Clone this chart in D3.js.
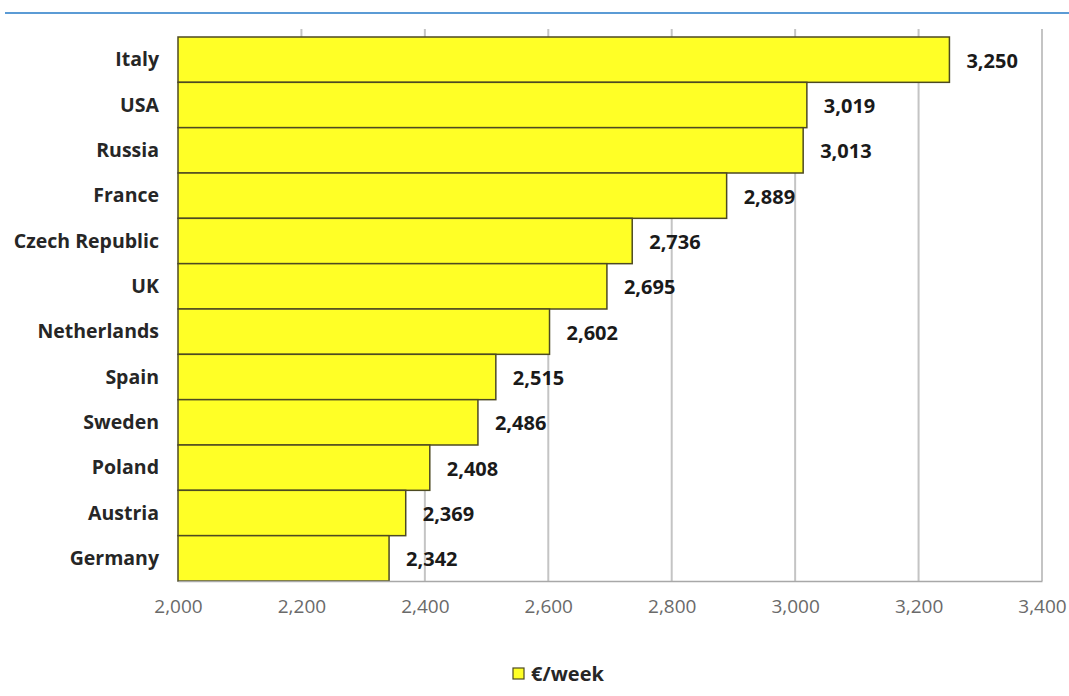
<!DOCTYPE html>
<html>
<head>
<meta charset="utf-8">
<script src="https://cdn.jsdelivr.net/npm/d3@7"></script>
<style>
  body { margin: 0; background: #fff; }
  text { font-family: "Open Sans", sans-serif; }
</style>
</head>
<body>
<div class="container"></div>
<script>
const countries = ["Italy", "USA", "Russia", "France", "Czech Republic", "UK",
        "Netherlands", "Spain", "Sweden", "Poland", "Austria", "Germany"],
    values = [3250, 3019, 3013, 2889, 2736, 2695, 2602, 2515, 2486, 2408, 2369, 2342],
    xTicks = [2000, 2200, 2400, 2600, 2800, 3000, 3200, 3400],
    seriesName = "€/week";

const width = 1069, height = 696,
    margin = {top: 37, right: 27, bottom: 115, left: 178};

const svg = d3.select('.container')
    .append('svg')
    .attr('width', width)
    .attr('height', height);

// blue rule under the cut-off title
svg.append('line')
    .attr('x1', 5).attr('x2', width)
    .attr('y1', 13).attr('y2', 13)
    .attr('stroke', '#5b9bd5')
    .attr('stroke-width', 2);

const x = d3.scaleLinear()
    .domain([2000, 3400])
    .range([margin.left, width - margin.right]);

const y = d3.scaleBand()
    .domain(countries)
    .range([margin.top, height - margin.bottom])
    .padding(0);

// vertical gridlines
svg.selectAll('.grid')
    .data(xTicks.slice(1))
    .enter()
    .append('line')
    .attr('class', 'grid')
    .attr('x1', d => x(d)).attr('x2', d => x(d))
    .attr('y1', margin.top - 8).attr('y2', height - margin.bottom)
    .attr('stroke', '#c4c4c4')
    .attr('stroke-width', 2);

const data = countries.map((c, i) => ({country: c, value: values[i]}));

svg.selectAll('.bar')
    .data(data)
    .enter()
    .append('rect')
    .attr('class', 'bar')
    .attr('x', x(2000))
    .attr('y', d => y(d.country))
    .attr('width', d => x(d.value) - x(2000))
    .attr('height', y.bandwidth())
    .attr('fill', '#ffff26')
    .attr('stroke', '#4d4a22')
    .attr('stroke-width', 1.5);

// x axis
const xAxis = svg.append('g')
    .attr('transform', `translate(0,${height - margin.bottom})`)
    .call(d3.axisBottom(x).tickValues(xTicks).tickFormat(d3.format(',')).tickSize(0).tickPadding(19));
xAxis.select('.domain').attr('stroke', '#a8a8a8').attr('stroke-width', 1.5);
xAxis.selectAll('text')
    .attr('fill', '#6a6a6a')
    .style('font-size', '19px')
    .style('font-family', '"Open Sans", sans-serif');

// category labels
svg.selectAll('.cat')
    .data(countries)
    .enter()
    .append('text')
    .attr('class', 'cat')
    .attr('x', margin.left - 19)
    .attr('y', d => y(d) + y.bandwidth() / 2)
    .attr('dy', '0.35em')
    .attr('text-anchor', 'end')
    .attr('fill', '#262626')
    .style('font-size', '19.5px')
    .style('font-weight', 'bold')
    .text(d => d);

// value labels
svg.selectAll('.val')
    .data(data)
    .enter()
    .append('text')
    .attr('class', 'val')
    .attr('x', d => x(d.value) + 17)
    .attr('y', d => y(d.country) + y.bandwidth() / 2 + 1)
    .attr('dy', '0.35em')
    .attr('fill', '#1a1a1a')
    .style('font-size', '20px')
    .style('font-weight', 'bold')
    .text(d => d3.format(',')(d.value));

// legend
const legend = svg.append('g').attr('transform', 'translate(513,668)');
legend.append('rect')
    .attr('width', 11).attr('height', 11)
    .attr('fill', '#ffff26')
    .attr('stroke', '#4d4a22')
    .attr('stroke-width', 1.2);
legend.append('text')
    .attr('x', 18).attr('y', 6)
    .attr('dy', '0.35em')
    .attr('fill', '#262626')
    .style('font-size', '20px')
    .style('font-weight', 'bold')
    .text(seriesName);
</script>
</body>
</html>
